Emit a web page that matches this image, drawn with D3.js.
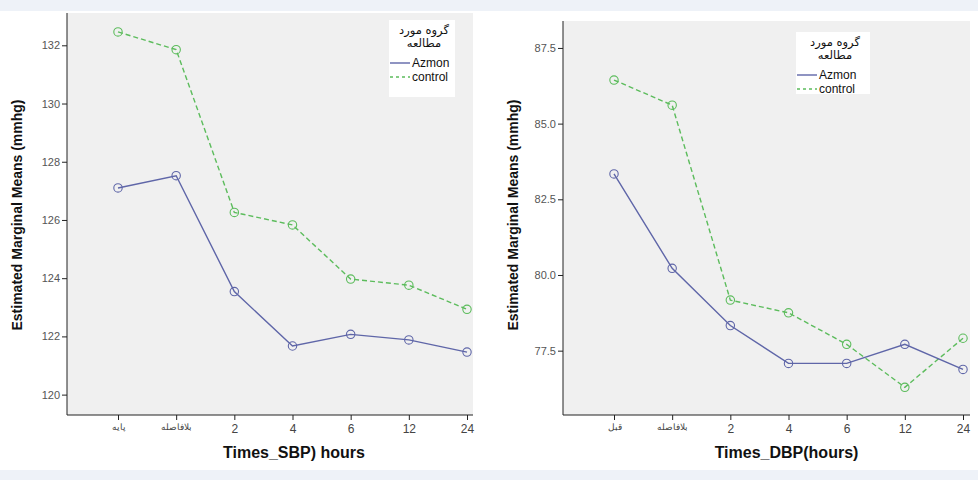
<!DOCTYPE html>
<html>
<head>
<meta charset="utf-8">
<script src="https://cdn.jsdelivr.net/npm/d3@7"></script>
<style>
  body { margin: 0; background: #fff; }
  svg { display: block; font-family: "Liberation Sans", Arial, sans-serif; }
</style>
</head>
<body>
<script>
// data
var sbpCategories = ["پایه", "بلافاصله", "2", "4", "6", "12", "24"];
var sbpAzmon   = [127.10, 127.52, 123.54, 121.67, 122.07, 121.88, 121.46];
var sbpControl = [132.46, 131.85, 126.26, 125.83, 123.97, 123.76, 122.93];
var sbpTicks = [120, 122, 124, 126, 128, 130, 132];

var dbpCategories = ["قبل", "بلافاصله", "2", "4", "6", "12", "24"];
var dbpAzmon   = [83.34, 80.22, 78.33, 77.08, 77.08, 77.71, 76.88];
var dbpControl = [86.44, 85.61, 79.17, 78.75, 77.71, 76.29, 77.91];
var dbpTicks = [77.5, 80.0, 82.5, 85.0, 87.5];

var seriesNames = ["Azmon", "control"];
var legendTitle = ["گروه مورد", "مطالعه"];

var svgWidth = 978;
var svgHeight = 480;

var colAzmon = "#5f66a8";
var colControl = "#5cbc5c";

var svg = d3.select("body")
  .append("svg")
  .attr("width", svgWidth)
  .attr("height", svgHeight);

// pale bands top and bottom
svg.append("rect").attr("x", 0).attr("y", 0).attr("width", svgWidth).attr("height", 11).attr("fill", "#eef2f8");
svg.append("rect").attr("x", 0).attr("y", 470).attr("width", svgWidth).attr("height", 10).attr("fill", "#eef2f8");

function drawPanel(opt) {
  var w = opt.right - opt.left;
  var h = opt.bottom - opt.top;

  var g = svg.append("g")
    .attr("transform", `translate(${opt.left}, ${opt.top})`);

  g.append("rect")
    .attr("width", w)
    .attr("height", h)
    .attr("fill", "#f0f0f0");

  var x = d3.scalePoint()
    .domain(opt.categories)
    .range([51, 400]);

  var y = d3.scaleLinear()
    .domain(opt.yDomain)
    .range([h, 0]);

  // y axis
  var leftAxis = d3.axisLeft(y)
    .tickValues(opt.ticks)
    .tickSize(5)
    .tickFormat(opt.fmt);
  var ya = g.append("g").call(leftAxis);
  ya.select(".domain").attr("d", `M0,0V${h}`).attr("stroke", "#222");
  ya.selectAll(".tick line").attr("stroke", "#222");
  ya.selectAll(".tick text").attr("fill", "#555").attr("font-size", 11).attr("x", -7);

  // x axis
  var bottomAxis = d3.axisBottom(x).tickSize(5);
  var xa = g.append("g")
    .attr("transform", `translate(0, ${h})`)
    .call(bottomAxis);
  xa.select(".domain").attr("d", `M0,0H${w}`).attr("stroke", "#222");
  xa.selectAll(".tick line").attr("stroke", "#222");
  xa.selectAll(".tick text")
    .attr("fill", "#444")
    .attr("y", 9)
    .attr("font-size", function(d) { return isNaN(+d) ? 9 : 12; });

  // series
  var line = d3.line()
    .x(function(d, i) { return x(opt.categories[i]); })
    .y(function(d) { return y(d); });

  g.append("path")
    .datum(opt.control)
    .attr("d", line)
    .attr("fill", "none")
    .attr("stroke", colControl)
    .attr("stroke-width", 1.4)
    .attr("stroke-dasharray", "5,3");

  g.append("path")
    .datum(opt.azmon)
    .attr("d", line)
    .attr("fill", "none")
    .attr("stroke", colAzmon)
    .attr("stroke-width", 1.4);

  [[opt.control, colControl], [opt.azmon, colAzmon]].forEach(function(s) {
    g.selectAll(null)
      .data(s[0])
      .enter()
      .append("circle")
      .attr("cx", function(d, i) { return x(opt.categories[i]); })
      .attr("cy", function(d) { return y(d); })
      .attr("r", 4.2)
      .attr("fill", "none")
      .attr("stroke", s[1])
      .attr("stroke-width", 1.1);
  });

  // legend
  var lg = svg.append("g")
    .attr("transform", `translate(${opt.legend[0]}, ${opt.legend[1]})`);
  lg.append("rect")
    .attr("width", opt.legend[2])
    .attr("height", opt.legend[3])
    .attr("fill", "#fff");
  lg.selectAll(".lt")
    .data(legendTitle)
    .enter()
    .append("text")
    .attr("x", opt.legend[2] / 2 + 2)
    .attr("y", function(d, i) { return 14 + i * 13; })
    .attr("text-anchor", "middle")
    .attr("font-size", 11.5)
    .attr("font-family", "DejaVu Sans, sans-serif")
    .attr("fill", "#111")
    .text(function(d) { return d; });
  seriesNames.forEach(function(name, i) {
    var yy = 43 + i * 14;
    lg.append("line")
      .attr("x1", 1).attr("x2", 21)
      .attr("y1", yy).attr("y2", yy)
      .attr("stroke", i === 0 ? colAzmon : colControl)
      .attr("stroke-width", 1.4)
      .attr("stroke-dasharray", i === 0 ? null : "3,3");
    lg.append("text")
      .attr("x", 23)
      .attr("y", yy + 4)
      .attr("font-size", 12)
      .attr("fill", "#111")
      .text(name);
  });

  // axis titles
  svg.append("text")
    .attr("x", opt.left + w / 2 + opt.titleShift)
    .attr("y", 458)
    .attr("text-anchor", "middle")
    .attr("font-size", 16)
    .attr("font-weight", "bold")
    .attr("fill", "#111")
    .text(opt.xTitle);

  svg.append("text")
    .attr("transform", `translate(${opt.left - 45}, 215) rotate(-90)`)
    .attr("text-anchor", "middle")
    .attr("font-size", 14)
    .attr("font-weight", "bold")
    .attr("fill", "#111")
    .text("Estimated Marginal Means (mmhg)");
}

drawPanel({
  left: 67, right: 473, top: 13, bottom: 415,
  categories: sbpCategories,
  azmon: sbpAzmon,
  control: sbpControl,
  ticks: sbpTicks,
  fmt: d3.format("d"),
  yDomain: [119.30, 133.11],
  legend: [389, 20, 66, 77],
  xTitle: "Times_SBP) hours",
  titleShift: 24
});

drawPanel({
  left: 563, right: 970, top: 21, bottom: 415,
  categories: dbpCategories,
  azmon: dbpAzmon,
  control: dbpControl,
  ticks: dbpTicks,
  fmt: d3.format(".1f"),
  yDomain: [75.375, 88.39],
  legend: [796, 32, 74, 62],
  xTitle: "Times_DBP(hours)",
  titleShift: 20
});
</script>
</body>
</html>
